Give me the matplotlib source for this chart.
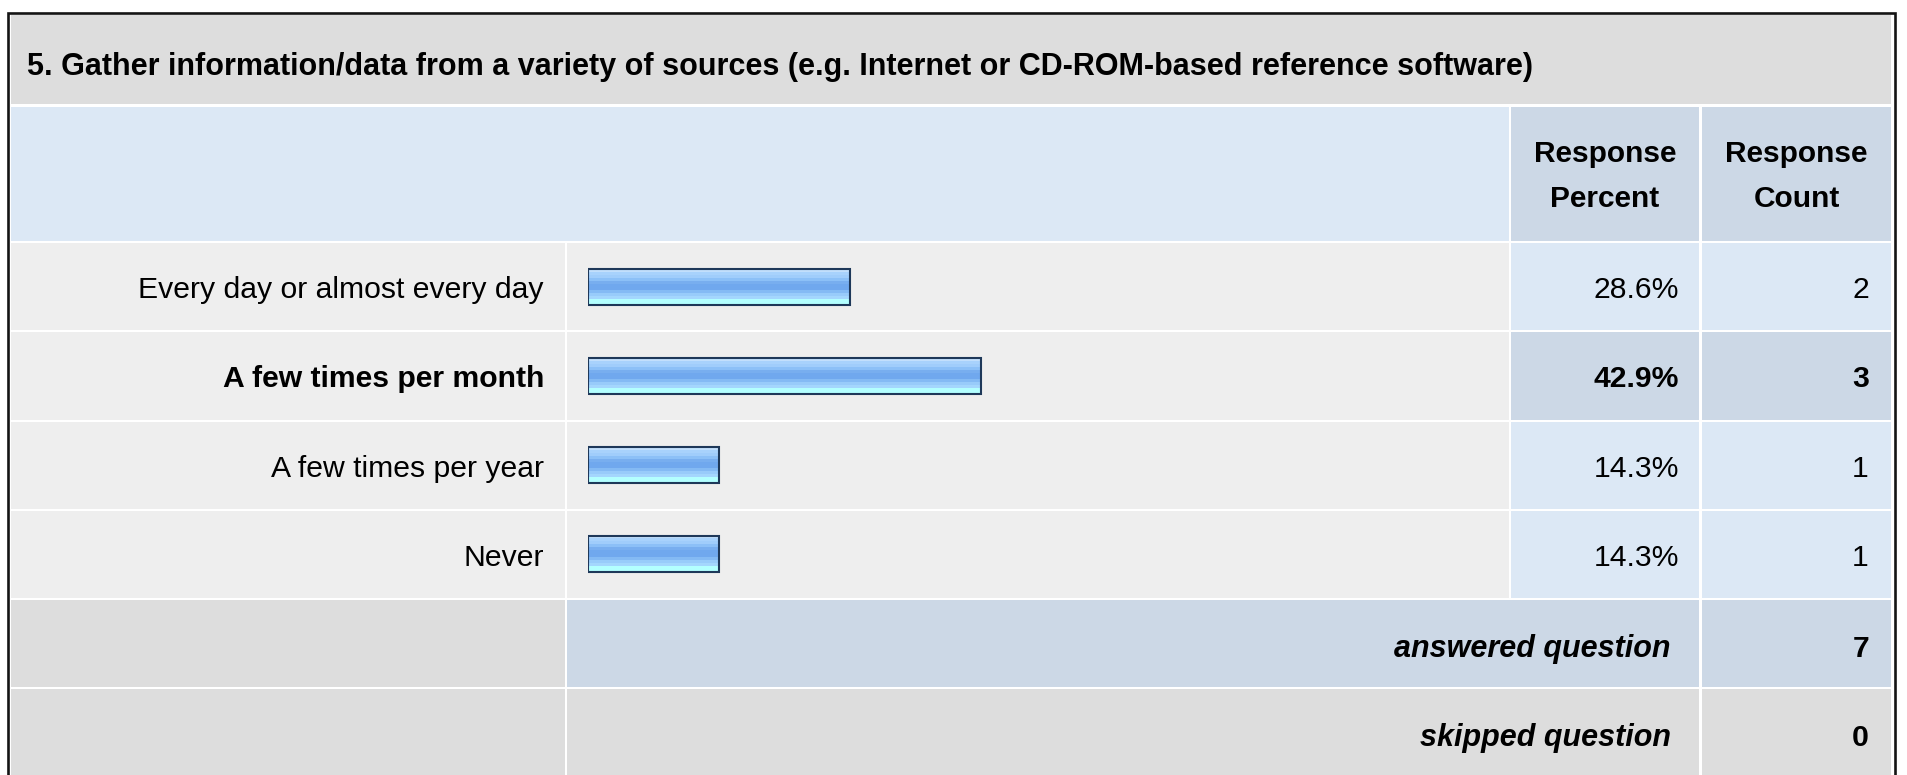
import numpy as np
import matplotlib
matplotlib.use("Agg")
import matplotlib.pyplot as plt
from matplotlib.patches import Rectangle
from matplotlib.colors import to_rgb

plt.rcParams['font.family'] = ['Liberation Sans', 'DejaVu Sans']

# data
title = "5. Gather information/data from a variety of sources (e.g. Internet or CD-ROM-based reference software)"
answers = ["Every day or almost every day", "A few times per month",
           "A few times per year", "Never"]
percents = [28.6, 42.9, 14.3, 14.3]
counts = [2, 3, 1, 1]
highlight = [False, True, False, False]
answered = 7
skipped = 0

W, H = 1907, 775
fig = plt.figure(figsize=(W / 100, H / 100), dpi=100)
ax = fig.add_axes([0, 0, 1, 1])
ax.set_xlim(0, W)
ax.set_ylim(H, 0)
ax.axis('off')

GRAY = '#DDDDDD'
LIGHT = '#EEEEEE'
BLUE = '#DCE8F5'
BLUE2 = '#CCD8E6'

# column edges (pixels)
X_L0, X_L1 = 11, 565
X_B0, X_B1 = 567, 1509
X_P0, X_P1 = 1511, 1699
X_C0, X_C1 = 1702, 1891

ROW_TOP = 243
PITCH = 89.25
GAP = 2


def cell(x0, x1, y0, y1, color):
    ax.add_patch(Rectangle((x0, y0), x1 - x0, y1 - y0, facecolor=color,
                           edgecolor='none', zorder=1))


FS = 21.7
FS_HEAD = 21.5
FS_SUM = 22

# title row
cell(X_L0, X_C1, 15, 104, GRAY)
ax.text(27, 75, title, fontsize=22, fontweight='bold',
        ha='left', va='baseline', zorder=3)

# header row
cell(X_L0, X_B1, 107, 241, BLUE)
cell(X_P0, X_P1, 107, 241, BLUE2)
cell(X_C0, X_C1, 107, 241, BLUE2)
for (x0, x1), word in [((X_P0, X_P1), "Percent"), ((X_C0, X_C1), "Count")]:
    xc = (x0 + x1) / 2
    ax.text(xc, 162, "Response", fontsize=FS_HEAD, fontweight='bold',
            ha='center', va='baseline', zorder=3)
    ax.text(xc, 207, word, fontsize=FS_HEAD, fontweight='bold',
            ha='center', va='baseline', zorder=3)

# answer rows
for i, (lab, pct, cnt, hl) in enumerate(zip(answers, percents, counts, highlight)):
    y0 = ROW_TOP + i * PITCH
    y1 = y0 + PITCH - GAP
    yb = (y0 + y1) / 2 + 11.5
    cell(X_L0, X_L1, y0, y1, LIGHT)
    cell(X_B0, X_B1, y0, y1, LIGHT)
    cell(X_P0, X_P1, y0, y1, BLUE2 if hl else BLUE)
    cell(X_C0, X_C1, y0, y1, BLUE2 if hl else BLUE)
    fw = 'bold' if hl else 'normal'
    ax.text(544, yb, lab, fontsize=FS, fontweight=fw, ha='right', va='baseline', zorder=3)
    ax.text(1679, yb, f"{pct:.1f}%", fontsize=FS, fontweight=fw, ha='right', va='baseline', zorder=3)
    ax.text(1869, yb, str(cnt), fontsize=FS, fontweight=fw, ha='right', va='baseline', zorder=3)

# answered / skipped rows
ya0 = ROW_TOP + 4 * PITCH
ya1 = ya0 + PITCH - GAP
cell(X_L0, X_L1, ya0, ya1, GRAY)
cell(X_B0, X_P1, ya0, ya1, BLUE2)
cell(X_C0, X_C1, ya0, ya1, BLUE2)
yb = (ya0 + ya1) / 2 + 13
ax.text(1671, yb, "answered question", fontsize=FS_SUM, fontweight='bold', style='italic',
        ha='right', va='baseline', zorder=3)
ax.text(1869, yb, str(answered), fontsize=FS, fontweight='bold', ha='right', va='baseline', zorder=3)

ys0 = ya1 + GAP
ys1 = H + 5
cell(X_L0, X_L1, ys0, ys1, GRAY)
cell(X_B0, X_P1, ys0, ys1, GRAY)
cell(X_C0, X_C1, ys0, ys1, GRAY)
yb = ys0 + (ya1 - ya0) / 2 + 13
ax.text(1671, yb, "skipped question", fontsize=FS_SUM, fontweight='bold', style='italic',
        ha='right', va='baseline', zorder=3)
ax.text(1869, yb, str(skipped), fontsize=FS, fontweight='bold', ha='right', va='baseline', zorder=3)

# outer frame
ax.plot([7.5, 7.5, 1894.5, 1894.5], [H + 5, 13, 13, H + 5], color='#141414',
        linewidth=1.9, solid_joinstyle='miter', zorder=5)

# bars: their own axes, x in percent
bx0, bx1 = 588, 1503
by0, by1 = ROW_TOP - 1, ROW_TOP - 1 + 4 * PITCH
axb = fig.add_axes([bx0 / W, 1 - by1 / H, (bx1 - bx0) / W, (by1 - by0) / H])
axb.axis('off')
axb.patch.set_alpha(0)

grad_hex = ['#C2DFFC', '#A8D2FC', '#A0CDFB', '#8CC0F7', '#78AEEF', '#70A8EE',
            '#70A8EE', '#84BAF4', '#98CBFA', '#A4D6FD', '#B3FFFF', '#B3FFFF']
grad = np.array([to_rgb(c) for c in grad_hex]).reshape(-1, 1, 3)
bh = 36 / PITCH
for i, pct in enumerate(percents):
    axb.imshow(grad, extent=(0, pct, i + bh / 2, i - bh / 2), aspect='auto',
               interpolation='nearest', zorder=2)
axb.barh(range(len(percents)), percents, height=bh, fill=False,
         edgecolor='#1E3859', linewidth=1.5, zorder=3)
axb.set_xlim(0, 100)
axb.set_ylim(len(percents) - 0.5, -0.5)

fig.savefig("out.png", dpi=100)
